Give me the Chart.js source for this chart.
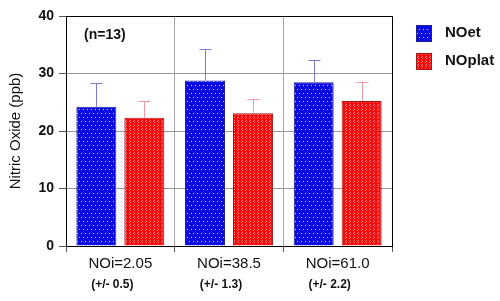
<!DOCTYPE html>
<html>
<head>
<meta charset="utf-8">
<script src="https://cdn.jsdelivr.net/npm/chart.js@4"></script>
<style>
  body { margin: 0; background: #fff; }
  #wrap { width: 500px; height: 301px; }
</style>
</head>
<body>
<div id="wrap"><canvas id="chart"></canvas></div>
<script>
const categories = ['NOi=2.05', 'NOi=38.5', 'NOi=61.0'];
const subLabels = ['(+/- 0.5)', '(+/- 1.3)', '(+/- 2.2)'];
const seriesNames = ['NOet', 'NOplat'];
const noet = [24.2, 28.8, 28.5];
const noetErr = [4.2, 5.5, 3.8];
const noplat = [22.3, 23.1, 25.2];
const noplatErr = [2.9, 2.5, 3.3];
const yTicks = [0, 10, 20, 30, 40];
const noteText = '(n=13)';

const FONT = '"Liberation Sans", Arial, sans-serif';

// dotted fills like the original
function makePattern(base, drawDots) {
  const c = document.createElement('canvas');
  c.width = 8; c.height = 8;
  const g = c.getContext('2d');
  g.fillStyle = base;
  g.fillRect(0, 0, 8, 8);
  drawDots(g);
  return g.createPattern(c, 'repeat');
}
const bluePattern = makePattern('#0a0ae6', g => {
  g.fillStyle = 'rgba(255,255,255,0.85)';
  g.fillRect(1, 1, 1, 1); g.fillRect(5, 1, 1, 1);
  g.fillRect(3, 5, 1, 1); g.fillRect(7, 5, 1, 1);
});
const redPattern = makePattern('#f80a0a', g => {
  g.fillStyle = 'rgba(255,160,160,0.75)';
  g.fillRect(2, 0, 1, 1); g.fillRect(1, 1, 1, 1); g.fillRect(2, 2, 1, 1);
  g.fillRect(6, 0, 1, 1); g.fillRect(5, 1, 1, 1); g.fillRect(6, 2, 1, 1);
  g.fillRect(1, 4, 1, 1); g.fillRect(2, 5, 1, 1); g.fillRect(1, 6, 1, 1);
  g.fillRect(5, 4, 1, 1); g.fillRect(6, 5, 1, 1); g.fillRect(5, 6, 1, 1);
});

const errors = [noetErr, noplatErr];
const errColors = ['#7b7bd0', '#f29aa4'];

const extras = {
  id: 'extras',
  afterDatasetsDraw(chart) {
    const ctx = chart.ctx;
    const y = chart.scales.y;
    ctx.save();
    ctx.lineWidth = 1;
    chart.data.datasets.forEach((ds, di) => {
      const meta = chart.getDatasetMeta(di);
      ctx.strokeStyle = errColors[di];
      meta.data.forEach((bar, i) => {
        const top = Math.round(y.getPixelForValue(ds.data[i] + errors[di][i])) + 0.5;
        const x = Math.round(bar.x) + 0.5;
        ctx.beginPath();
        ctx.moveTo(x, bar.y);
        ctx.lineTo(x, top);
        ctx.moveTo(x - 6, top);
        ctx.lineTo(x + 6, top);
        ctx.stroke();
      });
    });
    ctx.restore();
  },
  afterDraw(chart) {
    const ctx = chart.ctx;
    const a = chart.chartArea;
    const xs = chart.scales.x;
    const ys = chart.scales.y;
    ctx.save();
    // frame top and right
    ctx.strokeStyle = '#000';
    ctx.lineWidth = 1;
    ctx.beginPath();
    ctx.moveTo(a.left, a.top + 0.5);
    ctx.lineTo(a.right + 0.5, a.top + 0.5);
    ctx.lineTo(a.right + 0.5, a.bottom);
    ctx.stroke();
    // sample size note
    ctx.fillStyle = '#111';
    ctx.font = 'bold 14px ' + FONT;
    ctx.textBaseline = 'middle';
    ctx.textAlign = 'left';
    ctx.fillText(noteText, a.left + 18, ys.getPixelForValue(36.6));
    // second line of x labels
    ctx.font = 'bold 12px ' + FONT;
    ctx.textAlign = 'center';
    subLabels.forEach((s, i) => {
      ctx.fillText(s, xs.getPixelForValue(i) - 8, 285);
    });
    // legend
    const fills = [bluePattern, redPattern];
    const borders = ['#20208a', '#a01818'];
    ctx.font = 'bold 15px ' + FONT;
    ctx.textAlign = 'left';
    seriesNames.forEach((n, i) => {
      const by = 25 + i * 28;
      ctx.fillStyle = fills[i];
      ctx.fillRect(416, by, 16, 17);
      ctx.strokeStyle = borders[i];
      ctx.strokeRect(416.5, by + 0.5, 15, 16);
      ctx.fillStyle = '#111';
      ctx.fillText(n, 445, by + 8);
    });
    ctx.restore();
  }
};

new Chart(document.getElementById('chart'), {
  type: 'bar',
  data: {
    labels: categories,
    datasets: [
      { label: seriesNames[0], data: noet, backgroundColor: bluePattern, borderColor: '#20208a', borderWidth: 1 },
      { label: seriesNames[1], data: noplat, backgroundColor: redPattern, borderColor: '#a01818', borderWidth: 1 }
    ]
  },
  options: {
    responsive: true,
    maintainAspectRatio: false,
    animation: false,
    categoryPercentage: 0.883,
    barPercentage: 0.833,
    layout: { padding: { top: 16, right: 108, left: 0, bottom: 0 } },
    plugins: { legend: { display: false }, tooltip: { enabled: false } },
    scales: {
      x: {
        afterFit: s => { s.height = 55; },
        grid: { offset: true, color: '#a8a8a8', tickLength: 6, tickColor: '#555' },
        border: { color: '#000' },
        ticks: { color: '#111', padding: 3, font: { family: FONT, size: 15 } }
      },
      y: {
        min: 0, max: 40,
        afterFit: s => { s.width = 66; },
        afterBuildTicks: s => { s.ticks = yTicks.map(v => ({ value: v })); },
        grid: {
          color: c => (c.tick && c.tick.value === 40 ? '#000' : '#999'),
          tickLength: 7, tickColor: '#555'
        },
        border: { color: '#000' },
        ticks: { color: '#111', padding: 5, font: { family: FONT, size: 14, weight: 'bold' } },
        title: { display: true, text: 'Nitric Oxide (ppb)', color: '#111', padding: { top: 7, bottom: 0 }, font: { family: FONT, size: 15 } }
      }
    }
  },
  plugins: [extras]
});
</script>
</body>
</html>
